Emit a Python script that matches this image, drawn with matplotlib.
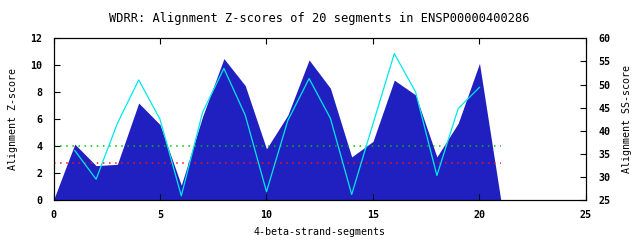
import matplotlib
matplotlib.use('Agg')
import matplotlib.pyplot as plt

segments = list(range(0, 22))
zscores = [0, 4.15, 2.55, 2.65, 7.2, 5.6, 1.1, 6.2, 10.5, 8.5, 3.8, 6.3,
           10.4, 8.3, 3.2, 4.35, 8.9, 7.8, 3.2, 5.7, 10.15, 0]
ss_x = list(range(1, 21))
ss_scores = [35.7, 29.5, 41.6, 51.0, 42.5, 25.9, 44.0, 53.5, 43.4, 26.8,
             42.2, 51.3, 42.7, 26.2, 41.5, 56.7, 48.4, 30.3, 44.8, 49.4]
thresh_green = 4.0
thresh_red = 2.72

plt.rcParams['font.family'] = 'DejaVu Sans Mono'
plt.rcParams['font.weight'] = 'bold'
plt.rcParams['font.size'] = 7.2

fig = plt.figure(figsize=(6.4, 2.4), dpi=100)
ax = fig.add_axes([0.0836, 0.1667, 0.832, 0.6733])

ax.fill_between(segments, zscores, 0, color='#2020c0', linewidth=0)
ax.plot([0, 21], [thresh_green, thresh_green], color='#00c000',
        linestyle=(0, (1, 3)), linewidth=1.1)
ax.plot([0, 21], [thresh_red, thresh_red], color='#ff1010',
        linestyle=(0, (1, 3)), linewidth=1.1)
ax.set_xlim(0, 25)
ax.set_ylim(0, 12)
ax.set_xticks(range(0, 26, 5))
ax.set_yticks(range(0, 13, 2))
ax.tick_params(direction='in', length=4, top=True, width=0.8)
ax.tick_params(axis='x', pad=7)
ax.tick_params(axis='y', pad=8)
ax.set_xlabel('4-beta-strand-segments', labelpad=5)
ax.set_ylabel('Alignment Z-score', labelpad=9)
ax.set_title('WDRR: Alignment Z-scores of 20 segments in ENSP00000400286',
             pad=12)

ax2 = ax.twinx()
ax2.plot(ss_x, ss_scores, color='#00e8e8', linewidth=0.9)
ax2.set_ylim(25, 60)
ax2.set_yticks(range(25, 61, 5))
ax2.tick_params(direction='in', length=4, width=0.8, pad=9)
ax2.set_ylabel('Alignment SS-score', labelpad=8)

for a in (ax, ax2):
    for s in a.spines.values():
        s.set_linewidth(0.8)

fig.savefig('out.png', dpi=100)
